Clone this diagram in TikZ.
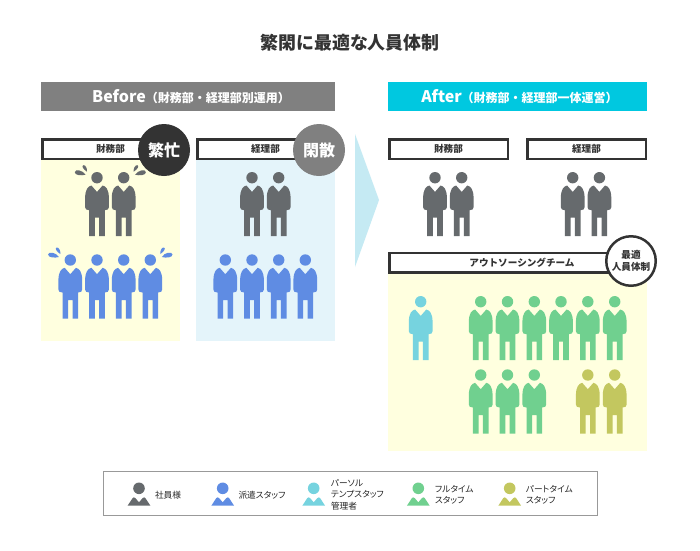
\documentclass[tikz,border=0pt]{standalone}
\usepackage{fontspec}
\setmainfont{Noto Sans CJK JP}
\newfontfamily\legendfont{Noto Sans CJK JP}[RawFeature=+palt]
\definecolor{cgray}{HTML}{666A6D}
\definecolor{cblue}{HTML}{5F8CE3}
\definecolor{ccyan}{HTML}{76D3DF}
\definecolor{cgreen}{HTML}{70D08F}
\definecolor{colive}{HTML}{C3C75F}
\definecolor{cyel}{HTML}{FFFFDF}
\definecolor{cpale}{HTML}{E4F4FA}
\definecolor{cbar}{HTML}{808080}
\definecolor{cafter}{HTML}{00C8E0}
\definecolor{cdark}{HTML}{333333}
\definecolor{carrow}{HTML}{C5EAF3}
\tikzset{
  x=1pt,y=-1pt,
  person/.pic={
    \fill[pic actions] (0,0) circle[radius=5.7pt];
    \fill[pic actions] (0,14.2) -- (-5.6,7.8) .. controls (-9,8.6) and (-11.7,11.5) .. (-11.9,20)
      -- (-11.9,29.5) .. controls (-11.9,31.5) and (-10.5,32.5) .. (-7.8,32.5)
      -- (-7.8,58.5) -- (-2.2,58.5) -- (-2.2,40) -- (2.2,40) -- (2.2,58.5) -- (7.8,58.5)
      -- (7.8,32.5) .. controls (10.5,32.5) and (11.9,31.5) .. (11.9,29.5)
      -- (11.9,20) .. controls (11.7,11.5) and (9,8.6) .. (5.6,7.8) -- cycle;
  },
  bust/.pic={
    \fill[pic actions] (0,0) circle[radius=5.8pt];
    \fill[pic actions] (0,14) -- (-3.6,9.8) .. controls (-4.6,8.8) and (-5.6,8.8) .. (-6.4,9.8)
      -- (-11.4,17.4) -- (11.4,17.4) -- (6.4,9.8) .. controls (5.6,8.8) and (4.6,8.8) .. (3.6,9.8) -- cycle;
  },
  sweat/.pic={
    \fill[pic actions] (-11.5,-3) .. controls (-14,-7.5) and (-22,-9) .. (-22.2,-5.5)
      .. controls (-22.4,-2.4) and (-15.5,-1.8) .. (-11.5,-3) -- cycle;
    \fill[pic actions] (-10,-6) .. controls (-9.5,-9) and (-11.5,-13) .. (-13.6,-12.5)
      .. controls (-15.8,-12) and (-14,-8.5) .. (-10,-6) -- cycle;
  },
  bar/.style={draw=none,minimum height=29.5pt,inner sep=0pt,outer sep=0pt,text=white,font=\bfseries},
  panel/.style={draw=none,inner sep=0pt,outer sep=0pt},
  deptbox/.style={draw=cdark,line width=2.5pt,fill=white,minimum height=19.5pt,inner sep=0pt,outer sep=0pt,font=\bfseries\fontsize{9.6}{10}\selectfont,text=cdark},
  badge/.style={circle,minimum size=52pt,inner sep=0pt,outer sep=0pt,font=\bfseries\fontsize{16}{18}\selectfont,text=white},
  legendtext/.style={anchor=west,inner sep=0pt,outer sep=0pt,align=left,text=black!85,font=\legendfont\fontsize{8.7}{11.4}\selectfont},
}
\begin{document}
\begin{tikzpicture}
\useasboundingbox (0,0) rectangle (700,550);
\fill[white] (0,0) rectangle (700,550);
% title
\node[font=\bfseries\fontsize{17.9}{20}\selectfont,text=cdark,inner sep=0pt] (title) at (350,43) {繁閑に最適な人員体制};
% header bars
\node[bar,fill=cbar,minimum width=294pt,text width=294pt,align=center] (before) at (188,96.7)
  {\hspace*{6pt}{\fontsize{16}{18}\selectfont Before}\fontsize{12}{14}\selectfont （財務部・経理部別運用）};
\node[bar,fill=cafter,minimum width=259pt,text width=259pt,align=center] (after) at (517.5,96.7)
  {\hspace*{4pt}{\fontsize{16}{18}\selectfont After}\fontsize{12}{14}\selectfont （財務部・経理部一体運営）};
% panels
\node[panel,fill=cyel,minimum width=139pt,minimum height=181pt] (panelA) at (110.5,250.5) {};
\node[panel,fill=cpale,minimum width=139pt,minimum height=181pt] (panelB) at (265.5,250.5) {};
\node[panel,fill=cyel,minimum width=259pt,minimum height=177pt] (panelC) at (517.5,362.5) {};
% dept boxes
\node[deptbox,minimum width=136.5pt] (deptA) at (110.5,149.2) {財務部};
\node[deptbox,minimum width=136.5pt] (deptB) at (265.5,149.2) {経理部};
\node[deptbox,minimum width=118.5pt] (deptC) at (448.5,149.2) {財務部};
\node[deptbox,minimum width=118.5pt] (deptD) at (586.5,149.2) {経理部};
\node[deptbox,minimum width=256.5pt] (deptE) at (517.5,262.5) {};
\node[font=\bfseries\fontsize{9.6}{10}\selectfont,text=cdark,inner sep=0pt] (deptEt) at (522,262.5) {アウトソーシングチーム};
% badges
\node[badge,fill=cdark] (busy) at (164,150) {繁忙};
\node[badge,fill=cbar] (idle) at (319,150) {閑散};
\node[circle,draw=cdark,line width=2.5pt,fill=white,minimum size=49.5pt,inner sep=0pt,outer sep=0pt,align=center,text=cdark,font=\bfseries\fontsize{9.6}{12.5}\selectfont] (best) at (631,261) {最適\\人員体制};
% arrow
\fill[carrow] (355,134) -- (379,200) -- (355,267) -- cycle;
% Before people
\foreach \px in {97,123.7,252,278.7} \pic[cgray] at (\px,177.7) {person};
\foreach \px in {70.3,97,123.7,150.3,225.3,252,278.7,305.3} \pic[cblue] at (\px,260) {person};
\pic[cgray] at (97,177.7) {sweat};
\pic[cgray,xscale=-1] at (123.7,177.7) {sweat};
\pic[cblue] at (70.3,260) {sweat};
\pic[cblue,xscale=-1] at (150.3,260) {sweat};
% After people
\foreach \px in {435,461.7,572.7,599.4} \pic[cgray] at (\px,177.7) {person};
\pic[ccyan] at (420.7,301.7) {person};
\foreach \px in {480.7,507.5,534.3,561,587.8,614.7} \pic[cgreen] at (\px,301.7) {person};
\foreach \px in {480.7,507.5,534.3} \pic[cgreen] at (\px,375) {person};
\foreach \px in {587.8,614.7} \pic[colive] at (\px,375) {person};
% legend
\node[draw=black!40,line width=1pt,fill=white,minimum width=494pt,minimum height=44pt,inner sep=0pt,outer sep=0pt] (legend) at (350.5,493.5) {};
\pic[cgray] at (139,488.3) {bust};
\pic[cblue] at (222.7,488.3) {bust};
\pic[ccyan] at (313.7,488.3) {bust};
\pic[cgreen] at (418.3,488.3) {bust};
\pic[colive] at (509.7,488.3) {bust};
\node[legendtext] (l1) at (155,495) {社員様};
\node[legendtext] (l2) at (238.5,495) {派遣スタッフ};
\node[legendtext] (l3) at (331,494.5) {パーソル\\テンプスタッフ\\管理者};
\node[legendtext] (l4) at (435,494.5) {フルタイム\\スタッフ};
\node[legendtext] (l5) at (526,494.5) {パートタイム\\スタッフ};
\end{tikzpicture}
\end{document}
